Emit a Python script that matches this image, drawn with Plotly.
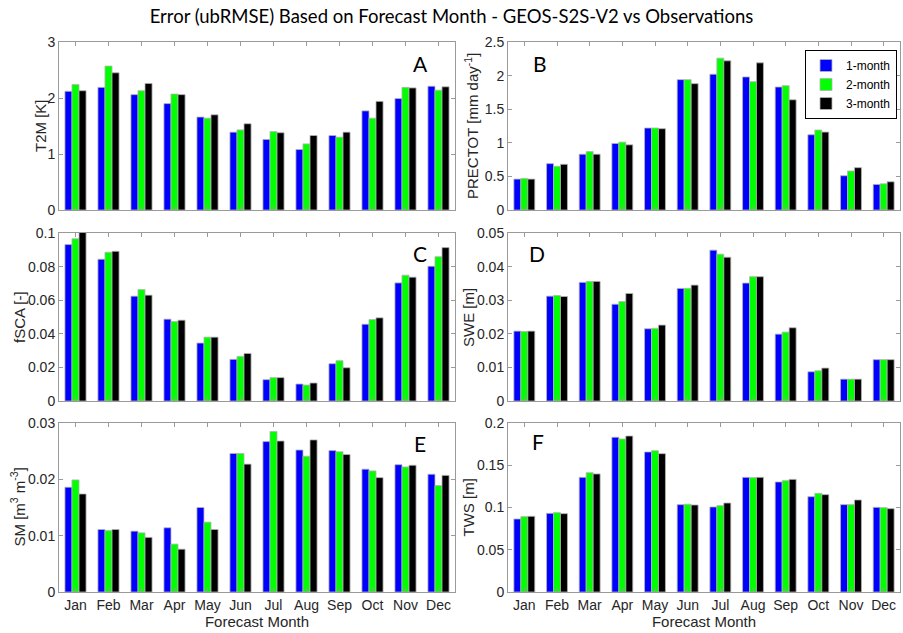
import plotly.graph_objects as go

months = ["Jan", "Feb", "Mar", "Apr", "May", "Jun", "Jul", "Aug", "Sep", "Oct", "Nov", "Dec"]
leads = ["1-month", "2-month", "3-month"]
colors = ["#0000FF", "#00FF00", "#000000"]

t2m_1 = [2.12, 2.19, 2.06, 1.90, 1.66, 1.39, 1.26, 1.08, 1.33, 1.77, 1.99, 2.21]
t2m_2 = [2.24, 2.57, 2.13, 2.07, 1.64, 1.43, 1.40, 1.18, 1.30, 1.64, 2.19, 2.14]
t2m_3 = [2.13, 2.45, 2.26, 2.06, 1.70, 1.54, 1.38, 1.33, 1.39, 1.94, 2.18, 2.20]

prec_1 = [0.46, 0.69, 0.83, 0.99, 1.22, 1.94, 2.02, 1.98, 1.83, 1.12, 0.51, 0.38]
prec_2 = [0.47, 0.65, 0.87, 1.01, 1.22, 1.94, 2.26, 1.91, 1.85, 1.19, 0.58, 0.39]
prec_3 = [0.46, 0.68, 0.83, 0.97, 1.21, 1.88, 2.22, 2.19, 1.64, 1.16, 0.63, 0.42]

fsca_1 = [0.0931, 0.0844, 0.0624, 0.0487, 0.0345, 0.0248, 0.0127, 0.0101, 0.0222, 0.0457, 0.0703, 0.0802]
fsca_2 = [0.0966, 0.0885, 0.0663, 0.0473, 0.0380, 0.0265, 0.0139, 0.0095, 0.0240, 0.0485, 0.0749, 0.0859]
fsca_3 = [0.1005, 0.0891, 0.0630, 0.0481, 0.0380, 0.0283, 0.0139, 0.0107, 0.0198, 0.0495, 0.0737, 0.0913]

swe_1 = [0.0208, 0.0312, 0.0353, 0.0288, 0.0215, 0.0335, 0.0449, 0.0351, 0.0199, 0.0087, 0.0065, 0.0123]
swe_2 = [0.0207, 0.0314, 0.0356, 0.0296, 0.0216, 0.0335, 0.0437, 0.0370, 0.0205, 0.0090, 0.0065, 0.0123]
swe_3 = [0.0208, 0.0311, 0.0356, 0.0320, 0.0226, 0.0345, 0.0428, 0.0370, 0.0218, 0.0098, 0.0065, 0.0123]

sm_1 = [0.0186, 0.0111, 0.0108, 0.0114, 0.0150, 0.0246, 0.0267, 0.0252, 0.0251, 0.0218, 0.0226, 0.0209]
sm_2 = [0.0199, 0.0109, 0.0105, 0.0085, 0.0124, 0.0246, 0.0285, 0.0241, 0.0249, 0.0215, 0.0222, 0.0189]
sm_3 = [0.0174, 0.0111, 0.0097, 0.0076, 0.0111, 0.0227, 0.0268, 0.0270, 0.0244, 0.0203, 0.0225, 0.0207]

tws_1 = [0.0864, 0.0931, 0.1357, 0.1831, 0.1657, 0.1034, 0.1006, 0.1357, 0.1302, 0.1128, 0.1034, 0.1002]
tws_2 = [0.0892, 0.0939, 0.1412, 0.1811, 0.1673, 0.1038, 0.1022, 0.1353, 0.1318, 0.1168, 0.1034, 0.0998]
tws_3 = [0.0896, 0.0927, 0.1397, 0.1846, 0.1637, 0.1030, 0.1053, 0.1357, 0.1333, 0.1152, 0.1089, 0.0986]

panels = [
    ("A", "T2M [K]", [t2m_1, t2m_2, t2m_3], [0, 3], 1),
    ("B", "PRECTOT [mm day<sup>-1</sup>]", [prec_1, prec_2, prec_3], [0, 2.5], 0.5),
    ("C", "fSCA [-]", [fsca_1, fsca_2, fsca_3], [0, 0.1], 0.02),
    ("D", "SWE [m]", [swe_1, swe_2, swe_3], [0, 0.05], 0.01),
    ("E", "SM [m<sup>3</sup> m<sup>-3</sup>]", [sm_1, sm_2, sm_3], [0, 0.03], 0.01),
    ("F", "TWS [m]", [tws_1, tws_2, tws_3], [0, 0.2], 0.05),
]

W, H = 903, 633
xdoms = [[59 / W, 455 / W], [508 / W, 900 / W]]
ydoms = [[(H - 210) / H, (H - 42) / H], [(H - 401) / H, (H - 233) / H], [(H - 592) / H, (H - 423) / H]]
letter_pos = {"A": (0.912, 0.875), "B": (0.082, 0.87), "C": (0.912, 0.88),
              "D": (0.074, 0.88), "E": (0.912, 0.88), "F": (0.077, 0.89)}
ylabel_x = {"A": 40, "B": 471, "C": 19, "D": 468, "E": 18, "F": 468}

fig = go.Figure()
FAM = "Liberation Sans"
font_ax = dict(family=FAM, size=14, color="#262626")
axcol = "#9a9a9a"

for i, (letter, ylabel, series, yr, dt) in enumerate(panels):
    row, col = divmod(i, 2)
    n = i + 1
    xa = "x" if n == 1 else f"x{n}"
    ya = "y" if n == 1 else f"y{n}"
    for k in range(3):
        fig.add_trace(go.Bar(
            x=months, y=series[k], name=leads[k],
            marker=dict(color=colors[k], line=dict(color="#b4b4b4", width=0.8)),
            xaxis=xa, yaxis=ya, showlegend=(n == 2), legendgroup=leads[k],
        ))
    bottom = row == 2
    xdict = dict(
        domain=xdoms[col], anchor=ya, type="category", range=[-0.5, 11.5],
        showline=True, linecolor=axcol, linewidth=1, mirror="ticks",
        ticks="inside", ticklen=4, tickcolor=axcol, showgrid=False, zeroline=False,
        showticklabels=bottom, tickfont=font_ax, automargin=False,
    )
    if bottom:
        xdict["title"] = dict(text="Forecast Month", font=dict(family=FAM, size=15, color="#262626"), standoff=0)
    fig.layout[f"xaxis{'' if n == 1 else n}"] = xdict
    fig.layout[f"yaxis{'' if n == 1 else n}"] = dict(
        domain=ydoms[row], anchor=xa, range=yr, dtick=dt, tick0=0,
        showline=True, linecolor=axcol, linewidth=1, mirror="ticks",
        ticks="inside", ticklen=4, tickcolor=axcol, showgrid=False, zeroline=False,
        tickfont=font_ax, automargin=False,
    )
    # y-axis label
    yc = (ydoms[row][0] + ydoms[row][1]) / 2
    fig.add_annotation(text=ylabel, x=ylabel_x[letter] / W, y=yc, xref="paper", yref="paper",
                       showarrow=False, textangle=-90, xanchor="center", yanchor="middle",
                       font=dict(family=FAM, size=15, color="#262626"))
    lx, ly = letter_pos[letter]
    fig.add_annotation(text=letter, x=lx, y=ly, xref=f"{xa} domain", yref=f"{ya} domain",
                       showarrow=False, xanchor="center", yanchor="middle",
                       font=dict(family="Lato, sans-serif", size=21, color="black"))

fig.update_layout(
    width=W, height=H,
    margin=dict(l=0, r=0, t=0, b=0),
    paper_bgcolor="white", plot_bgcolor="white",
    barmode="group", bargap=0.36, bargroupgap=0,
    title=dict(text="Error (ubRMSE) Based on Forecast Month - GEOS-S2S-V2 vs Observations",
               x=0.5, xanchor="center", y=1 - 17 / H, yanchor="middle",
               font=dict(family="Lato, sans-serif", size=18.5, color="black")),
    legend=dict(x=897 / W, y=1 - 50 / H, xanchor="right", yanchor="top",
                bgcolor="white", bordercolor="black", borderwidth=1,
                font=dict(family=FAM, size=12, color="black"),
                itemwidth=30, tracegroupgap=0),
)

fig.write_html("out.html")
